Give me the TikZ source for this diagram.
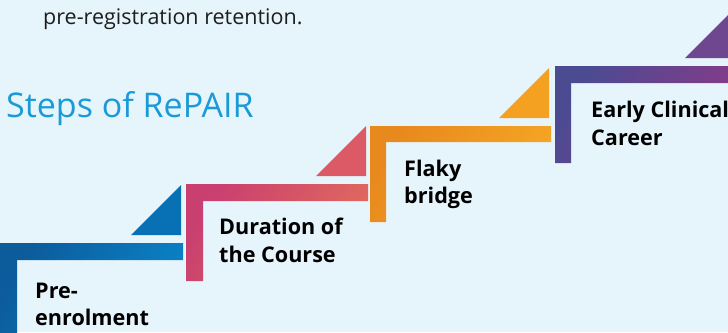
\documentclass[tikz,border=0pt]{standalone}
\usepackage{fontspec}
\setmainfont{Open Sans}
\usepackage{xcolor}
\definecolor{pagebg}{HTML}{E6F4FB}
\definecolor{titleblue}{HTML}{1A9AD6}
\definecolor{bodytext}{HTML}{1E1E1E}
\definecolor{blueA}{HTML}{0C5C9C}
\definecolor{blueB}{HTML}{0A84C8}
\definecolor{blueT}{HTML}{0870B4}
\definecolor{pinkA}{HTML}{C93F70}
\definecolor{pinkB}{HTML}{E26C5C}
\definecolor{pinkT}{HTML}{DC5A66}
\definecolor{orangeA}{HTML}{E8891E}
\definecolor{orangeB}{HTML}{F5A825}
\definecolor{orangeT}{HTML}{F4A020}
\definecolor{purpleA}{HTML}{4B4B92}
\definecolor{purpleB}{HTML}{8A3A88}
\definecolor{purpleT}{HTML}{6E4790}
\tikzset{steplabel/.style={anchor=base west,inner sep=0pt,
   font=\bfseries\fontsize{21.6}{26}\selectfont},
 bluestep/.style={left color=blueA,right color=blueB,shading angle=60},
 pinkstep/.style={left color=pinkA,right color=pinkB,shading angle=60},
 orangestep/.style={left color=orangeA,right color=orangeB,shading angle=60},
 purplestep/.style={left color=purpleA,right color=purpleB,shading angle=60},
 }

\begin{document}
\begin{tikzpicture}[x=10pt,y=-10pt]
        \useasboundingbox (0,0) rectangle (72.8,33.2);
        \fill[pagebg] (0,0) rectangle (72.8,33.2);
        % heading text
        \node[anchor=base west,inner sep=0pt,text=bodytext,
              font=\fontsize{21.5}{25}\selectfont] (intro) at (4.3,2.45) {pre-registration retention.};
        \node[anchor=base west,inner sep=0pt,text=titleblue,
              font=\fontsize{34}{40}\selectfont] (title) at (0.6,11.7) {Steps of RePAIR};
        % the four stairs, each an L with a wedge above its end
        \shade[bluestep] (0,24.3) -- (18.3,24.3) -- (18.3,26) -- (1.7,26) -- (1.7,34) -- (0,34) -- cycle;
        \fill[blueT] (13.1,23.5) -- (18.1,18.5) -- (18.1,23.5) -- cycle;
        \shade[pinkstep] (18.6,18.4) -- (36.8,18.4) -- (36.8,20.1) -- (20.3,20.1) -- (20.3,28.1) -- (18.6,28.1) -- cycle;
        \fill[pinkT] (31.6,17.6) -- (36.6,12.6) -- (36.6,17.6) -- cycle;
        \shade[orangestep] (37,12.6) -- (55.1,12.6) -- (55.1,14.2) -- (38.6,14.2) -- (38.6,22.2) -- (37,22.2) -- cycle;
        \fill[orangeT] (49.9,11.8) -- (54.9,6.8) -- (54.9,11.8) -- cycle;
        \shade[purplestep] (55.5,6.6) -- (74,6.6) -- (74,8.3) -- (57.1,8.3) -- (57.1,16.3) -- (55.5,16.3) -- cycle;
        \fill[purpleT] (68.5,5.8) -- (73.5,0.8) -- (73.5,5.8) -- cycle;
        % step names
        \node[steplabel] (pre1) at (3.5,29.8) {Pre-};
        \node[steplabel] (pre2) at (3.5,32.5) {enrolment};
        \node[steplabel] (dur1) at (21.9,23.4) {Duration of};
        \node[steplabel] (dur2) at (21.9,26.2) {the Course};
        \node[steplabel] (flaky1) at (40.4,17.6) {Flaky};
        \node[steplabel] (flaky2) at (40.4,20.3) {bridge};
        \node[steplabel] (early1) at (59.1,11.7) {Early Clinical};
        \node[steplabel] (early2) at (59.1,14.5) {Career};
    \end{tikzpicture}
\end{document}
